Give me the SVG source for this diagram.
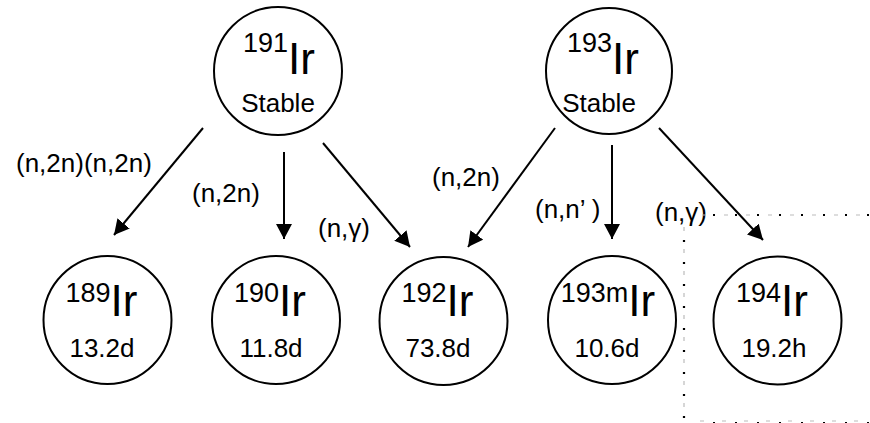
<svg xmlns="http://www.w3.org/2000/svg" width="870" height="423" viewBox="0 0 870 423">
<defs>
<style>
text{font-family:"Liberation Sans",Arial,sans-serif;fill:#000}
.c{fill:#fff;stroke:#000;stroke-width:2}
.s{font-size:27px}
.b{font-size:44px}
.l{font-size:26px}
.e{stroke:#000;stroke-width:2;fill:none}
.dk{stroke:#000;stroke-width:2.2;stroke-dasharray:2 20;fill:none}
.gr{stroke:#bbb;stroke-width:1.2;stroke-dasharray:4 18;fill:none}
</style>
<marker id="ah" viewBox="0 0 15 16" refX="15" refY="8" markerWidth="15" markerHeight="16" markerUnits="userSpaceOnUse" orient="auto">
<path d="M0,0 L15,8 L0,16 z" fill="#000"/>
</marker>
</defs>
<rect width="870" height="423" fill="#fff"/>
<g id="connectors">
<line class="e" x1="203" y1="128" x2="114" y2="235" marker-end="url(#ah)"/>
<line class="e" x1="284" y1="152" x2="284" y2="239" marker-end="url(#ah)"/>
<line class="e" x1="323" y1="143" x2="410" y2="247" marker-end="url(#ah)"/>
<line class="e" x1="555" y1="128" x2="468" y2="247" marker-end="url(#ah)"/>
<line class="e" x1="612" y1="145" x2="612" y2="239" marker-end="url(#ah)"/>
<line class="e" x1="659" y1="128" x2="763" y2="240" marker-end="url(#ah)"/>
</g>
<g id="labels">
<text class="l" x="16" y="172">(n,2n)(n,2n)</text>
<text class="l" x="192" y="202">(n,2n)</text>
<text class="l" x="318" y="237">(n,γ)</text>
<text class="l" x="432" y="186">(n,2n)</text>
<text class="l" x="535" y="218">(n,n’ )</text>
<text class="l" x="655" y="221">(n,γ)</text>
</g>
<g id="frame">
<line class="dk" x1="713" y1="215" x2="870" y2="215"/>
<line class="gr" x1="702" y1="215" x2="870" y2="215"/>
<line class="dk" x1="684" y1="240" x2="684" y2="423"/>
<line class="gr" x1="684" y1="227" x2="684" y2="423"/>
<line class="dk" x1="713" y1="423" x2="870" y2="423"/>
<line class="gr" x1="700" y1="421" x2="870" y2="421"/>
</g>
<g id="ir191">
<circle class="c" cx="278" cy="71" r="64"/>
<text x="279" y="52" text-anchor="middle"><tspan class="s">191</tspan><tspan class="b" dy="22">Ir</tspan></text>
<text class="l" x="278" y="112" text-anchor="middle">Stable</text>
</g>
<g id="ir193">
<circle class="c" cx="609" cy="71" r="63"/>
<text x="603" y="52" text-anchor="middle"><tspan class="s">193</tspan><tspan class="b" dy="22">Ir</tspan></text>
<text class="l" x="599" y="112" text-anchor="middle">Stable</text>
</g>
<g id="ir189">
<circle class="c" cx="107.5" cy="320" r="64"/>
<text x="101.5" y="302" text-anchor="middle"><tspan class="s">189</tspan><tspan class="b" dy="14">Ir</tspan></text>
<text class="l" x="102" y="357" text-anchor="middle">13.2d</text>
</g>
<g id="ir190">
<circle class="c" cx="276" cy="320" r="64"/>
<text x="270" y="302" text-anchor="middle"><tspan class="s">190</tspan><tspan class="b" dy="14">Ir</tspan></text>
<text class="l" x="271" y="357" text-anchor="middle">11.8d</text>
</g>
<g id="ir192">
<circle class="c" cx="443.5" cy="321" r="64"/>
<text x="437.5" y="302" text-anchor="middle"><tspan class="s">192</tspan><tspan class="b" dy="14">Ir</tspan></text>
<text class="l" x="438" y="357" text-anchor="middle">73.8d</text>
</g>
<g id="ir193m">
<circle class="c" cx="612" cy="320" r="64"/>
<text x="608" y="302" text-anchor="middle"><tspan class="s">193m</tspan><tspan class="b" dy="14">Ir</tspan></text>
<text class="l" x="607" y="357" text-anchor="middle">10.6d</text>
</g>
<g id="ir194">
<circle class="c" cx="777.5" cy="320.5" r="64"/>
<text x="772" y="302" text-anchor="middle"><tspan class="s">194</tspan><tspan class="b" dy="14">Ir</tspan></text>
<text class="l" x="774" y="357" text-anchor="middle">19.2h</text>
</g>
</svg>
